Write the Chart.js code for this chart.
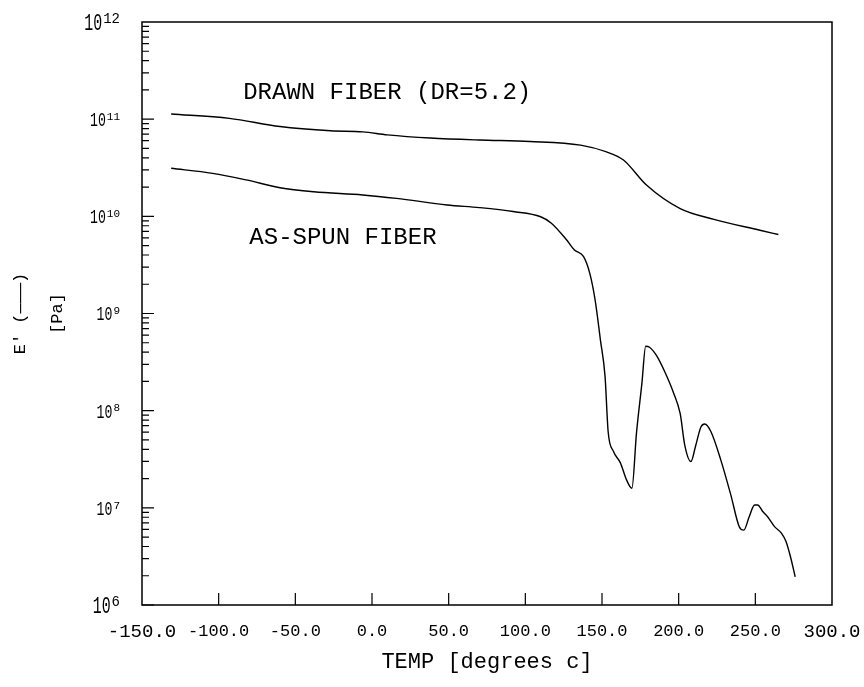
<!DOCTYPE html>
<html>
<head>
<meta charset="utf-8">
<script src="https://cdn.jsdelivr.net/npm/chart.js@4/dist/chart.umd.min.js"></script>
<style>
  html, body { margin: 0; padding: 0; background: #fff; }
  canvas { display: block; }
</style>
</head>
<body>
<canvas id="chart" width="864" height="687"></canvas>
<script>
const FONT = "'Liberation Mono', 'DejaVu Sans Mono', monospace";

// Drawn fiber (DR = 5.2): temperature (°C) and storage modulus E' (Pa)
const drawnTemp = [-131, -93, -60, -27, -6, 10, 38, 70, 103, 136, 153, 164, 179, 201, 223, 253, 265];
const drawnModulus = [1.13e11, 1.02e11, 8.4e10, 7.6e10, 7.4e10, 6.9e10, 6.4e10, 6.1e10, 5.9e10,
                      5.4e10, 4.6e10, 3.8e10, 2.1e10, 1.2e10, 9.3e9, 7.2e9, 6.5e9];

// As-spun fiber: temperature (°C) and storage modulus E' (Pa)
const spunTemp = [-131, -104, -82, -60, -38, -6, 16, 49, 70, 92, 110, 117, 127, 132, 138, 142,
                  145.5, 149, 152, 154, 157.5, 162, 166, 169.5, 172.5, 176, 178.5, 181, 185.5,
                  191, 196.5, 201, 204, 208, 211, 214.5, 217, 221, 227.5, 234, 239.5, 242.5,
                  246, 249.5, 251.5, 255, 258, 262.5, 267, 270, 273, 276];
const spunModulus = [3.12e10, 2.77e10, 2.37e10, 1.97e10, 1.79e10, 1.66e10, 1.53e10, 1.31e10,
                     1.23e10, 1.12e10, 9.9e9, 8.5e9, 5.7e9, 4.5e9, 3.85e9, 2.6e9, 1.38e9, 5.3e8,
                     2.24e8, 6.1e7, 3.8e7, 2.9e7, 1.94e7, 1.59e7, 5.9e7, 1.9e8, 4.6e8, 4.5e8,
                     3.7e8, 2.5e8, 1.55e8, 9.3e7, 4.4e7, 3.0e7, 4.3e7, 6.8e7, 7.3e7, 6.1e7,
                     3.1e7, 1.36e7, 6.4e6, 5.9e6, 8.1e6, 1.07e7, 1.07e7, 9.1e6, 8.1e6, 6.4e6,
                     5.5e6, 4.5e6, 3.1e6, 1.95e6];

// Axis ranges and tick values
const tempMin = -150, tempMax = 300, tempStep = 50;
const tempMarks = [-100, -50, 0, 50, 100, 150, 200, 250];
const decadeExponents = [6, 7, 8, 9, 10, 11, 12];

// Curve names written inside the plot
const curveNames = ['DRAWN FIBER (DR=5.2)', 'AS-SPUN FIBER'];

function points(xs, ys) {
  return xs.map((x, i) => ({ x, y: ys[i] }));
}

const framePlugin = {
  id: 'frameTicks',
  beforeDraw(chart) {
    const ctx = chart.ctx;
    ctx.save();
    ctx.fillStyle = '#fff';
    ctx.fillRect(0, 0, chart.width, chart.height);
    ctx.restore();
  },
  afterDraw(chart) {
    const { ctx, chartArea: a, scales: { x, y } } = chart;
    ctx.save();
    ctx.strokeStyle = '#000';
    ctx.fillStyle = '#000';

    // plot frame
    ctx.lineWidth = 1.5;
    ctx.strokeRect(a.left, a.top, a.right - a.left, a.bottom - a.top);

    // inward tick marks
    ctx.lineWidth = 1.2;
    ctx.beginPath();
    tempMarks.forEach(v => {
      const px = x.getPixelForValue(v);
      ctx.moveTo(px, a.bottom);
      ctx.lineTo(px, a.bottom - 12);
    });
    for (let e = decadeExponents[0]; e < decadeExponents[decadeExponents.length - 1]; e++) {
      for (let k = 1; k < 10; k++) {
        const py = y.getPixelForValue(k * Math.pow(10, e));
        ctx.moveTo(a.left, py);
        ctx.lineTo(a.left + (k === 1 ? 12 : 7), py);
      }
    }
    ctx.stroke();

    // decade labels: "10" with a raised exponent
    const right = a.left - 22;
    decadeExponents.forEach((e, i) => {
      const end = i === 0 || i === decadeExponents.length - 1;
      const baseSize = end ? 24 : 20;
      const expSize = end ? 14 : 11;
      const squeeze = end ? 0.62 : 0.66;
      const py = y.getPixelForValue(Math.pow(10, e));
      const cap = baseSize * 0.69;
      const top = py - cap / 2;
      ctx.textAlign = 'right';
      ctx.textBaseline = 'alphabetic';
      ctx.font = expSize + 'px ' + FONT;
      const expText = String(e);
      const ew = ctx.measureText(expText).width;
      ctx.fillText(expText, right, top + expSize * 0.69);
      ctx.save();
      ctx.translate(right - ew - 1, py + cap / 2);
      ctx.scale(squeeze, 1);
      ctx.font = baseSize + 'px ' + FONT;
      ctx.fillText('10', 0, 0);
      ctx.restore();
    });

    // curve names
    ctx.font = '24px ' + FONT;
    ctx.textAlign = 'left';
    ctx.textBaseline = 'middle';
    ctx.fillText(curveNames[0], x.getPixelForValue(-84), y.getPixelForValue(1.86e11));
    ctx.fillText(curveNames[1], x.getPixelForValue(-80), y.getPixelForValue(6.1e9));
    ctx.restore();
  }
};

const lineStyle = {
  borderColor: '#000',
  borderWidth: 1.4,
  pointRadius: 0,
  fill: false,
  cubicInterpolationMode: 'monotone'
};

new Chart(document.getElementById('chart'), {
  type: 'line',
  data: {
    datasets: [
      Object.assign({ label: curveNames[0], data: points(drawnTemp, drawnModulus) }, lineStyle),
      Object.assign({ label: curveNames[1], data: points(spunTemp, spunModulus) }, lineStyle)
    ]
  },
  options: {
    responsive: false,
    devicePixelRatio: 1,
    animation: false,
    layout: { padding: { top: 22, right: 32, left: 0, bottom: 0 } },
    plugins: { legend: { display: false }, tooltip: { enabled: false } },
    scales: {
      x: {
        type: 'linear',
        min: tempMin,
        max: tempMax,
        grid: { display: false, drawTicks: false },
        border: { display: false },
        ticks: {
          stepSize: tempStep,
          autoSkip: false,
          maxRotation: 0,
          padding: 16,
          color: '#000',
          font: (c) => ({
            family: FONT,
            size: (c.tick && (c.tick.value === tempMin || c.tick.value === tempMax)) ? 19 : 17
          }),
          callback: (v) => Number(v).toFixed(1)
        },
        title: {
          display: true,
          text: 'TEMP [degrees c]',
          color: '#000',
          font: { family: FONT, size: 22 },
          padding: { top: 0, bottom: 12 }
        },
        afterFit(scale) {
          scale.height = 82;
          scale.paddingLeft = 0;
          scale.paddingRight = 0;
        }
      },
      y: {
        type: 'logarithmic',
        min: 1e6,
        max: 1e12,
        grid: { display: false, drawTicks: false },
        border: { display: false },
        ticks: { display: false },
        afterBuildTicks(scale) {
          scale.ticks = decadeExponents.map(e => ({ value: Math.pow(10, e) }));
        },
        title: {
          display: true,
          text: ["E' (———)", '[Pa]'],
          color: '#000',
          font: { family: FONT, size: 17, lineHeight: 2.18 },
          padding: { top: 1.5, bottom: 0 }
        },
        afterFit(scale) {
          scale.width = 142;
          scale.paddingTop = 0;
          scale.paddingBottom = 0;
        }
      }
    }
  },
  plugins: [framePlugin]
});
</script>
</body>
</html>
